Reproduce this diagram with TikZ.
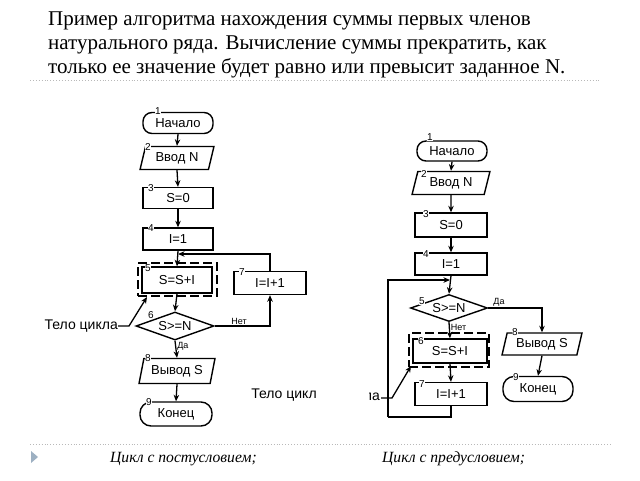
\documentclass[tikz,border=0pt]{standalone}
\usepackage{fontspec}
\setmainfont{Liberation Serif}
\newfontfamily\fcsans{Liberation Sans}
\usetikzlibrary{shapes.geometric,arrows.meta}
\definecolor{tricol}{HTML}{9DB0C2}
\begin{document}
\begin{tikzpicture}[x=1pt,y=-1pt,
  blk/.style={draw,line width=1.4pt,font=\fcsans\fontsize{13}{13}\selectfont,inner sep=0pt},
  term/.style={blk,rectangle,rounded corners=9pt},
  proc/.style={blk,rectangle},
  io/.style={blk,trapezium,trapezium left angle=72,trapezium right angle=108,trapezium stretches=true},
  dec/.style={blk,diamond,aspect=2.8},
  dashbox/.style={draw,line width=1.9pt,dash pattern=on 9pt off 4pt,inner sep=0pt},
  num/.style={fill=white,inner sep=0.5pt,font=\fcsans\fontsize{10}{10}\selectfont},
  lbl/.style={inner sep=1pt,font=\fcsans\fontsize{9}{9}\selectfont},
  note/.style={inner sep=0pt,font=\fcsans\fontsize{14}{14}\selectfont},
  ln/.style={line width=1.3pt},
  arr/.style={line width=1.3pt,-{Stealth[length=6.5pt,width=5.5pt]}},
  title/.style={anchor=base west,inner sep=0pt,font=\fontsize{21}{24}\selectfont},
  capt/.style={anchor=base west,inner sep=0pt,font=\itshape\fontsize{15.6}{15.6}\selectfont},
  sep/.style={draw=gray!55,dotted,line width=0.9pt}]
\useasboundingbox (0,0) rectangle (640,480);

% title
\node[title] (t1) at (48,25) {Пример алгоритма нахождения суммы первых членов};
\node[title] (t2) at (48,49) {натурального ряда. Вычисление суммы прекратить, как};
\node[title] (t3) at (48,73) {только ее значение будет равно или превысит заданное N.};
\draw[sep] (30,80) -- (600,80);
\draw[sep] (30,444) -- (612,444);
\fill[tricol] (31,451) -- (38,457) -- (31,463) -- cycle;
\node[capt] (c1) at (110,462) {Цикл с постусловием;};
\node[capt] (c2) at (382,462) {Цикл с предусловием;};

% ---------- left chart: post-condition loop
\node[term,minimum width=70pt,minimum height=21pt] (L1) at (178,123) {Начало};
\node[io,minimum width=74pt,minimum height=23pt] (L2) at (177,158) {Ввод N};
\node[proc,minimum width=70pt,minimum height=21pt] (L3) at (178,198) {S=0};
\node[proc,minimum width=70pt,minimum height=22pt] (L4) at (178,239) {I=1};
\node[proc,minimum width=70pt,minimum height=26pt] (L5) at (177,280) {S=S+I};
\node[dashbox,minimum width=79pt,minimum height=33pt] (L5d) at (177.5,279.5) {};
\node[proc,minimum width=72pt,minimum height=23pt] (L7) at (270,283) {I=I+1};
\node[dec,minimum width=78pt,minimum height=28pt] (L6) at (175,326) {S>=N};
\node[io,minimum width=76pt,minimum height=25pt] (L8) at (177,371) {Вывод S};
\node[term,minimum width=72pt,minimum height=24pt,rounded corners=11pt] (L9) at (176,414) {Конец};
\coordinate (Lj) at (178,254);
\coordinate (Ltip) at (147,297);
\node[num] (Ln1) at (158,111) {1};
\node[num] (Ln2) at (148,147) {2};
\node[num] (Ln3) at (151,188) {3};
\node[num] (Ln4) at (151,228) {4};
\node[num] (Ln5) at (148,268) {5};
\node[num] (Ln7) at (242,272) {7};
\node[num] (Ln6) at (151,315) {6};
\node[num] (Ln8) at (148,358) {8};
\node[num] (Ln9) at (149,402) {9};
\draw[arr] (L1.south) -- (L2.north);
\draw[arr] (L2.south) -- (L3.north);
\draw[arr] (L3.south) -- (L4.north);
\draw[arr] (L4.south) -- (L5.north);
\draw[arr] (L7.north) |- (Lj);
\draw[arr] (L5.south) -- (L6.north);
\draw[arr] (L6.east) -| node[lbl,pos=0.22,above] {Нет} (L7.south);
\draw[arr] (L6.south) -- node[lbl,pos=0.35,right] {Да} (L8.north);
\draw[arr] (L8.south) -- (L9.north);
\node[note,anchor=east] (Lbody) at (118,326) {Тело цикла};
\draw[arr] (Lbody.east) -- ++(11,0) -- (Ltip);
\node[note] (Lbody2) at (284,395) {Тело цикл};

% ---------- right chart: pre-condition loop
\node[term,minimum width=70pt,minimum height=20pt] (R1) at (452,151) {Начало};
\node[io,minimum width=78pt,minimum height=23pt] (R2) at (451,183) {Ввод N};
\node[proc,minimum width=72pt,minimum height=24pt] (R3) at (451,225) {S=0};
\node[proc,minimum width=72pt,minimum height=22pt] (R4) at (451,264) {I=1};
\node[dec,minimum width=77pt,minimum height=27pt] (R5) at (449,308) {S>=N};
\node[proc,minimum width=74pt,minimum height=24pt] (R6) at (450,351) {S=S+I};
\node[dashbox,minimum width=80pt,minimum height=34pt] (R6d) at (449,350) {};
\node[proc,minimum width=72pt,minimum height=23pt] (R7) at (451,394) {I=I+1};
\node[io,minimum width=80pt,minimum height=22pt] (R8) at (542,344) {Вывод S};
\node[term,minimum width=70pt,minimum height=25pt,rounded corners=11pt] (R9) at (538,389) {Конец};
\coordinate (Rj) at (450,280);
\coordinate (Rb) at (451,417);
\coordinate (Rl) at (388,417);
\coordinate (Rtip) at (411,366);
\node[num] (Rn1) at (430,137) {1};
\node[num] (Rn2) at (424,174) {2};
\node[num] (Rn3) at (426,214) {3};
\node[num] (Rn4) at (426,254) {4};
\node[num] (Rn5) at (422,301) {5};
\node[num] (Rn6) at (421,341) {6};
\node[num] (Rn7) at (422,384) {7};
\node[num] (Rn8) at (515,332) {8};
\node[num] (Rn9) at (516,377) {9};
\draw[arr] (R1.south) -- (R2.north);
\draw[arr] (R2.south) -- (R3.north);
\draw[arr] (R3.south) -- (R4.north);
\draw[arr] (R4.south) -- (R5.north);
\draw[arr] (R5.south) -- node[lbl,pos=0.3,right] {Нет} (R6.north);
\draw[arr] (R6.south) -- (R7.north);
\draw[ln] (R7.south) -- (Rb) -- (Rl);
\draw[arr] (Rl) |- (Rj);
\draw[arr] (R5.east) -| node[lbl,pos=0.1,above] {Да} (R8.north);
\draw[arr] (R8.south) -- (R9.north);
\begin{scope}
\clip (369,385) rectangle (386,410);
\node[note,anchor=east] (Rbody) at (380,398) {цикла};
\end{scope}
\coordinate (Rbs) at (381,398);
\draw[arr] (Rbs) -- ++(11,0) -- (Rtip);
\end{tikzpicture}
\end{document}
